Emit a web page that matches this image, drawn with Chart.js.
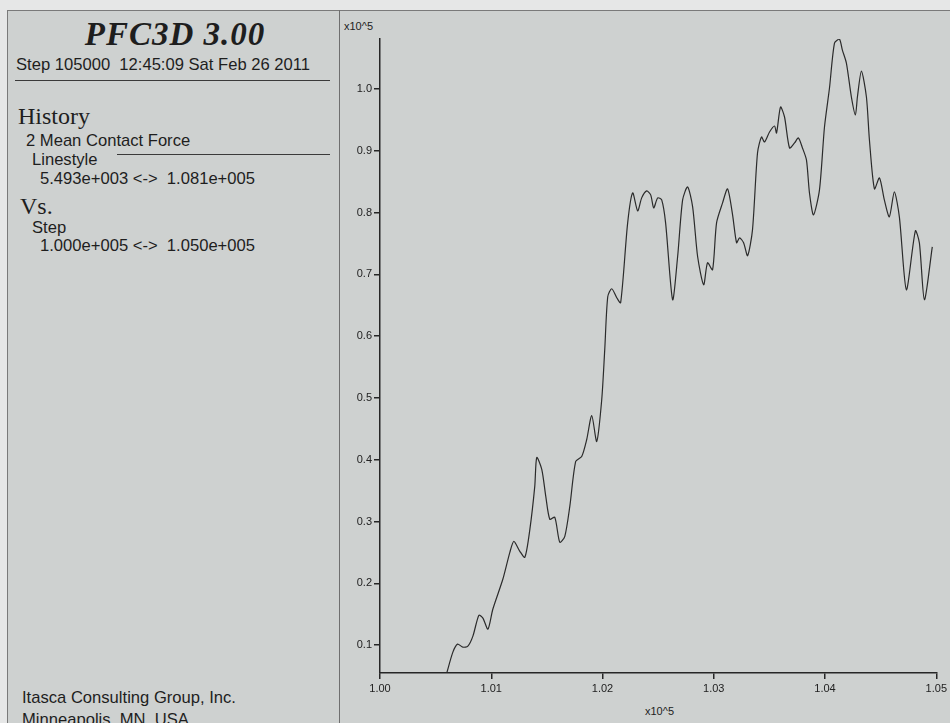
<!DOCTYPE html>
<html>
<head>
<meta charset="utf-8">
<script src="https://cdn.jsdelivr.net/npm/chart.js@4.4.1/dist/chart.umd.min.js"></script>
<style>
  html, body { margin: 0; padding: 0; }
  body { width: 950px; height: 723px; position: relative; overflow: hidden; background: #e6e7e7; font-family: "Liberation Sans", Arial, sans-serif; color: #1e1e1e; }
  #panel { position: absolute; left: 7px; top: 10px; width: 943px; height: 713px; background: #ced1d0; border-left: 1px solid #7a7a7a; border-top: 1px solid #7a7a7a; box-sizing: border-box; }
  #divider { position: absolute; left: 339px; top: 10px; width: 1px; height: 713px; background: #6f6f6f; }
  .t { position: absolute; white-space: pre; line-height: 1; }
  .sans { font-family: "Liberation Sans", Arial, sans-serif; font-size: 16.6px; }
  .serif { font-family: "Liberation Serif", "Times New Roman", serif; }
  .hl { position: absolute; height: 1px; background: #3a3a3a; }
  canvas { position: absolute; left: 0; top: 0; }
</style>
</head>
<body>
<div id="panel"></div>
<div id="divider"></div>

<div class="t serif" style="left:7px;width:336px;text-align:center;top:18px;font-size:33px;font-weight:bold;font-style:italic;letter-spacing:1px;">PFC3D 3.00</div>
<div class="t sans" style="left:16px;top:57px;">Step 105000  12:45:09 Sat Feb 26 2011</div>
<div class="hl" style="left:15px;top:80px;width:315px;"></div>
<div class="t serif" style="left:18px;top:104px;font-size:24px;">History</div>
<div class="t sans" style="left:26px;top:133px;">2 Mean Contact Force</div>
<div class="t sans" style="left:32px;top:152px;">Linestyle</div>
<div class="hl" style="left:117px;top:154px;width:213px;"></div>
<div class="t sans" style="left:40px;top:171px;">5.493e+003 &lt;-&gt;  1.081e+005</div>
<div class="t serif" style="left:20px;top:194px;font-size:24px;">Vs.</div>
<div class="t sans" style="left:32px;top:220px;">Step</div>
<div class="t sans" style="left:40px;top:238px;">1.000e+005 &lt;-&gt;  1.050e+005</div>
<div class="t sans" style="left:22px;top:690px;">Itasca Consulting Group, Inc.</div>
<div class="t sans" style="left:22px;top:712px;">Minneapolis, MN  USA</div>

<div class="t sans" style="left:344px;top:21px;font-size:11px;color:#222;">x10^5</div>
<div class="t sans" style="left:645px;top:706px;font-size:11px;color:#222;">x10^5</div>

<canvas id="c" width="950" height="723"></canvas>

<script>
// ---- data ----
const steps = [
  100600, 100655, 100697, 100745, 100790, 100835, 100889, 100925, 100970, 101014,
  101104, 101167, 101203, 101257, 101302, 101347, 101391, 101409, 101454, 101490,
  101526, 101571, 101616, 101661, 101706, 101759, 101813, 101858, 101903, 101948,
  101993, 102020, 102047, 102083, 102128, 102163, 102226, 102271, 102316, 102352,
  102397, 102433, 102460, 102496, 102532, 102567, 102630, 102675, 102720, 102765,
  102810, 102855, 102909, 102944, 102989, 103025, 103079, 103124, 103169, 103205,
  103232, 103268, 103304, 103348, 103393, 103429, 103456, 103501, 103546, 103564,
  103600, 103636, 103681, 103726, 103761, 103797, 103833, 103860, 103896, 103950,
  103995, 104040, 104085, 104129, 104156, 104192, 104237, 104273, 104291, 104327,
  104372, 104399, 104444, 104489, 104533, 104578, 104623, 104668, 104731, 104812,
  104848, 104893, 104964
];
const meanContactForce = [
  5493, 8869, 10162, 9677, 9838, 11454, 14847, 14363, 12585, 15817,
  20664, 25027, 26804, 25188, 24219, 28743, 35691, 40377, 38438, 34075,
  30359, 30682, 26643, 27612, 32460, 39731, 40539, 43285, 47163, 42962,
  49749, 57828, 66391, 67684, 66230, 65422, 78348, 83196, 80287, 82388,
  83519, 82873, 80772, 82388, 82065, 78348, 65907, 72855, 82065, 84165,
  80934, 72855, 68330, 71885, 70754, 78348, 81580, 83842, 79641, 75117,
  75925, 75117, 73016, 77217, 89659, 92244, 91436, 93052, 94022, 92890,
  97092, 95476, 90467, 91275, 92083, 90467, 88528, 83196, 79641, 83680,
  93860, 100162, 107433, 108100, 106302, 104201, 98707, 95799, 98707, 102908,
  98707, 91759, 83842, 85619, 82065, 79318, 83357, 79318, 67522, 77056,
  75117, 65907, 74470
];
const xTicks = [100000, 101000, 102000, 103000, 104000, 105000];
const yTicks = [10000, 20000, 30000, 40000, 50000, 60000, 70000, 80000, 90000, 100000];
const xRange = [100000, 105000];
const yRange = [5493, 108100];

const points = steps.map((s, i) => ({ x: s, y: meanContactForce[i] }));
const axisColor = '#262626';
const tickFont = { family: '"Liberation Sans", Arial, sans-serif', size: 11 };

new Chart(document.getElementById('c'), {
  type: 'line',
  data: {
    datasets: [{
      data: points,
      borderColor: '#2b2b2b',
      borderWidth: 1.2,
      pointRadius: 0,
      tension: 0.25,
      fill: false
    }]
  },
  options: {
    responsive: false,
    animation: false,
    devicePixelRatio: 1,
    layout: { padding: { left: 340, top: 39, right: 13, bottom: 20 } },
    plugins: { legend: { display: false }, tooltip: { enabled: false } },
    scales: {
      x: {
        type: 'linear',
        min: xRange[0], max: xRange[1],
        afterBuildTicks: s => { s.ticks = xTicks.map(v => ({ value: v })); },
        afterFit: s => { s.height = 30; },
        ticks: { callback: v => (v / 1e5).toFixed(2), font: tickFont, color: '#222', padding: 3, maxRotation: 0, autoSkip: false },
        grid: { drawOnChartArea: false, drawTicks: true, tickLength: 6, color: axisColor, lineWidth: 1.5 },
        border: { display: true, color: axisColor, width: 1.5 }
      },
      y: {
        type: 'linear',
        min: yRange[0], max: yRange[1],
        afterBuildTicks: s => { s.ticks = yTicks.map(v => ({ value: v })); },
        afterFit: s => { s.width = 40; },
        ticks: { callback: v => (v / 1e5).toFixed(1), font: tickFont, color: '#222', padding: 2, autoSkip: false },
        grid: { drawOnChartArea: false, drawTicks: true, tickLength: 6, color: axisColor, lineWidth: 1.5 },
        border: { display: true, color: axisColor, width: 1.5 }
      }
    }
  }
});
</script>
</body>
</html>
